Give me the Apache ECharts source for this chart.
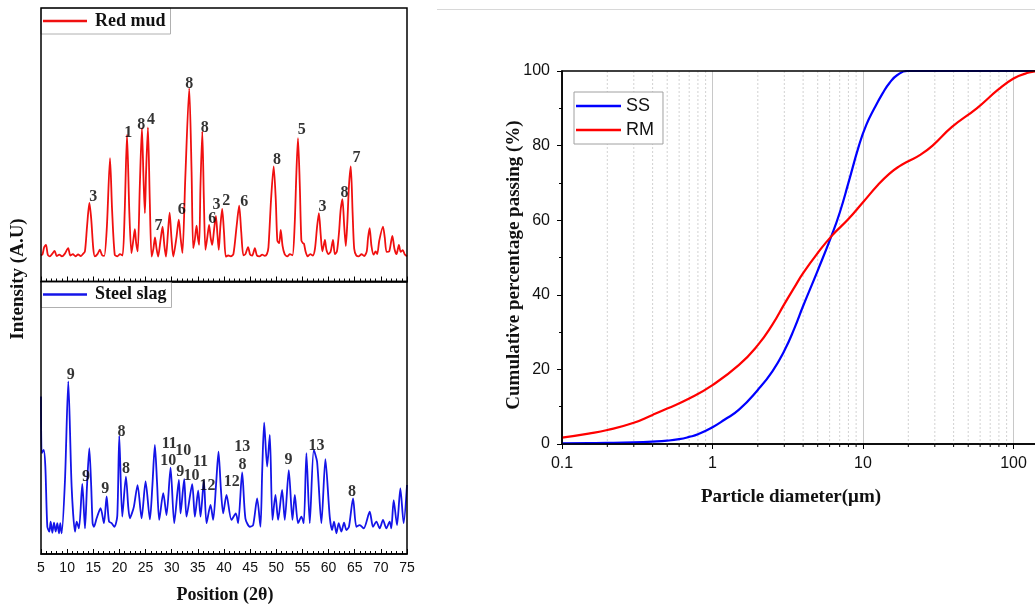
<!DOCTYPE html>
<html>
<head>
<meta charset="utf-8">
<script src="https://cdn.jsdelivr.net/npm/echarts@6/dist/echarts.min.js"></script>
<style>
html,body{margin:0;padding:0;background:#fff;}
#chart{width:1035px;height:610px;}
</style>
</head>
<body>
<div id="chart"></div>
<script>
// ---- XRD patterns: [2θ (deg), intensity (a.u.)] ----
const redMudXrd = [
  [5.0,95],[5.3,100],[5.6,125],[5.95,134],[6.3,98],[6.7,92],[7.1,100],[7.6,112],[8.0,93],[8.5,98],
  [9.0,92],[9.5,100],[10.2,122],[10.6,95],[11.1,100],[11.6,92],[12.1,99],[12.6,93],[13.0,100],[13.4,110],
  [13.8,200],[14.25,287],[14.6,230],[15.0,120],[15.3,92],[15.8,100],[16.25,116],[16.7,96],[17.1,94],[17.6,200],
  [18.2,451],[18.6,260],[19.1,98],[19.6,92],[20.1,100],[20.6,95],[21.0,250],[21.45,537],[21.9,250],[22.3,104],
  [22.65,150],[22.95,191],[23.2,140],[23.5,110],[23.9,350],[24.3,561],[24.6,380],[24.87,250],[25.1,400],[25.45,563],
  [25.8,300],[26.15,91],[26.5,120],[26.8,161],[27.1,120],[27.4,91],[27.85,150],[28.25,201],[28.6,130],[28.9,91],
  [29.25,170],[29.6,252],[29.95,160],[30.3,91],[30.9,160],[31.35,226],[31.7,160],[32.05,104],[32.6,380],[33.35,707],
  [33.8,400],[34.1,122],[34.4,150],[34.75,204],[35.0,160],[35.25,134],[35.5,350],[35.85,549],[36.15,300],[36.45,116],
  [36.8,160],[37.15,207],[37.45,160],[37.75,134],[38.1,190],[38.45,240],[38.75,170],[39.0,116],[39.3,200],[39.65,265],
  [40.0,180],[40.35,91],[40.8,95],[41.3,92],[41.8,100],[42.4,200],[42.9,277],[43.3,180],[43.7,96],[44.1,100],
  [44.6,126],[45.0,98],[45.4,95],[45.9,122],[46.3,95],[46.8,92],[47.3,98],[47.8,94],[48.2,100],[48.5,125],
  [49.0,300],[49.5,421],[49.9,300],[50.2,150],[50.55,140],[50.85,189],[51.2,130],[51.6,100],[52.1,92],[52.6,100],
  [53.1,96],[53.5,200],[53.85,400],[54.15,524],[54.5,350],[54.8,150],[55.1,140],[55.3,138],[55.6,110],[56.0,92],
  [56.5,100],[57.0,95],[57.4,120],[57.8,200],[58.15,250],[58.5,170],[58.8,110],[59.05,130],[59.3,152],[59.6,115],
  [60.0,100],[60.4,110],[60.85,152],[61.2,100],[61.6,110],[62.0,180],[62.3,260],[62.65,301],[63.0,200],[63.3,130],
  [63.6,220],[63.9,350],[64.25,421],[64.6,250],[64.9,120],[65.3,95],[65.8,92],[66.3,100],[66.8,93],[67.3,110],
  [67.55,160],[67.85,195],[68.2,130],[68.6,98],[69.0,110],[69.3,100],[69.7,150],[70.4,201],[70.75,160],[71.1,108],
  [71.6,110],[72.2,167],[72.6,120],[73.0,100],[73.45,134],[73.8,108],[74.2,115],[74.55,100],[75.0,92]
];
// phase index labels: [2θ, intensity, phase]
const redMudPhases = [
  [15.0,309,'3'],[21.69,543,'1'],[24.17,572,'8'],[26.02,590,'4'],[27.48,203,'7'],[31.94,262,'6'],
  [33.34,722,'8'],[36.34,563,'8'],[37.74,230,'6'],[38.57,279,'3'],[40.41,295,'2'],[43.85,292,'6'],
  [50.16,443,'8'],[54.87,554,'5'],[58.82,274,'3'],[63.03,323,'8'],[65.32,451,'7']
];

const steelSlagXrd = [
  [5.0,578],[5.13,370],[5.51,382],[5.83,321],[6.21,100],[6.59,82],[6.85,119],[7.17,78],[7.48,115],[7.8,82],
  [8.12,113],[8.44,76],[8.69,113],[8.95,76],[9.59,272],[10.22,633],[10.86,247],[11.5,82],[11.82,119],[12.26,94],
  [12.9,257],[13.41,94],[13.8,250],[14.24,388],[14.6,250],[14.87,113],[15.13,100],[15.64,131],[16.4,168],[17.04,113],
  [17.55,211],[18.0,120],[18.5,113],[19.05,100],[19.59,140],[19.97,433],[20.54,137],[21.24,284],[21.7,170],[22.0,131],
  [22.4,150],[22.77,174],[23.47,253],[24.24,131],[25.0,266],[25.83,127],[26.3,250],[26.78,400],[27.2,260],[27.61,125],
  [28.38,223],[29.01,143],[29.78,317],[30.48,113],[31.37,272],[31.69,149],[32.39,275],[32.83,137],[33.92,256],[34.43,137],
  [35.06,233],[35.51,137],[36.15,269],[36.66,113],[37.42,180],[37.93,125],[38.5,260],[38.95,376],[39.4,240],[39.84,149],
  [40.48,217],[41.43,125],[42.26,149],[42.7,113],[43.47,299],[44.1,130],[44.94,100],[45.57,106],[46.34,204],[46.97,100],
  [47.3,300],[47.68,482],[48.25,321],[48.76,437],[49.27,125],[49.84,217],[50.35,125],[51.11,235],[51.62,125],[52.39,308],
  [53.09,125],[53.54,217],[54.17,113],[54.8,137],[55.25,113],[55.76,370],[56.4,113],[57.17,382],[57.8,339],[58.63,113],
  [59.39,348],[60.22,137],[60.67,88],[61.05,119],[61.5,76],[61.94,113],[62.45,82],[62.96,115],[63.41,88],[63.9,100],
  [64.68,204],[65.32,100],[65.96,106],[66.72,94],[67.87,155],[68.5,100],[69.14,119],[69.78,94],[70.41,125],[71.05,94],
  [71.69,119],[72.0,94],[72.45,198],[73.09,106],[73.73,241],[74.36,113],[75.0,253]
];
const steelSlagPhases = [
  [10.67,657,'9'],[13.6,282,'9'],[17.29,239,'9'],[20.41,447,'8'],[21.24,311,'8'],[29.52,406,'11'],
  [32.2,378,'10'],[29.33,340,'10'],[31.62,302,'9'],[33.79,286,'10'],[35.5,339,'11'],[36.85,251,'12'],
  [43.47,394,'13'],[43.54,327,'8'],[41.5,266,'12'],[52.32,345,'9'],[57.68,397,'13'],[64.5,229,'8']
];

// ---- Particle size distribution: diameter (µm) vs cumulative passing (%) ----
const ssDiameter = [0.1,0.15,0.2,0.3,0.4,0.5,0.6,0.7,0.8,1,1.2,1.5,2,2.5,3,3.5,4,5,6.2,7,8,9.4,10.5,11.9,13.5,15,17,19.7,25,50,100,150];
const ssPassing  = [0.2,0.25,0.3,0.45,0.65,0.9,1.3,1.9,2.6,4.5,6.5,9.2,14.5,19.5,25,31,37,46.5,56,62,70,80,85.5,90,94,96.8,99,100,100,100,100,100];
const rmDiameter = [0.1,0.15,0.2,0.3,0.4,0.5,0.7,1,1.5,2,2.5,3,3.5,4,5,6.2,8,10,12.6,15,17.5,20,24,29,39,57,79,100,120,150,200];
const rmPassing  = [1.7,2.8,3.75,5.7,7.8,9.5,12.2,15.8,21.2,26.5,32,37.5,42,45.8,51.2,55.8,60.3,64.8,69.5,72.5,74.5,75.8,77.5,80,85,90,95,98,99.3,100,100];
const minorDiameters = [0.2,0.3,0.4,0.5,0.6,0.7,0.8,0.9,2,3,4,5,6,7,8,9,20,30,40,50,60,70,80,90,200,300,400,500,600,700,800,900];

const SERIF = "'Liberation Serif','DejaVu Serif',serif";
const SANS = "'Liberation Sans',Arial,sans-serif";
const RED = '#f01010', BLUE = '#1414e8';

const pairs = (xs, ys) => xs.map((x, i) => [x, ys[i]]);

function xrdXAxis(gridIndex, withLabels) {
  return {
    type: 'value', gridIndex, min: 5, max: 75, interval: 5,
    axisLine: {show: true, lineStyle: {color: '#000', width: 1.5}},
    axisTick: {show: true, inside: true, length: 5, lineStyle: {color: '#000', width: 1}},
    minorTick: {show: true, splitNumber: 5, length: 3, lineStyle: {color: '#000', width: 1}},
    splitLine: {show: false},
    axisLabel: {show: withLabels, margin: 7, fontFamily: SANS, fontSize: 14, color: '#111'}
  };
}
function xrdYAxis(gridIndex) {
  return {type: 'value', gridIndex, min: 0, max: 1000, show: false};
}
function phaseLabels(idx, data) {
  return {
    type: 'scatter', xAxisIndex: idx, yAxisIndex: idx, data, symbolSize: 0.01, silent: true, z: 6,
    itemStyle: {color: '#000'},
    label: {show: true, position: 'inside', formatter: p => p.value[2], textBorderWidth: 0,
      fontFamily: SERIF, fontWeight: 'bold', fontSize: 16, color: '#000'}
  };
}
const xrdLegendBase = {
  orient: 'horizontal', left: 41, padding: [4, 5, 4, 2], itemWidth: 44, itemHeight: 2.5, icon: 'rect',
  borderColor: '#b0b0b0', borderWidth: 1, backgroundColor: '#fff', z: 1, selectedMode: false,
  textStyle: {fontFamily: SERIF, fontWeight: 'bold', fontSize: 18, color: '#111', padding: [0, 0, 0, 3], lineHeight: 17}
};

const chart = echarts.init(document.getElementById('chart'), null, {renderer: 'canvas'});
chart.setOption({
  backgroundColor: '#fff',
  animation: false,
  grid: [
    {left: 41, top: 8, width: 366, height: 273.5, show: true, borderColor: '#000', borderWidth: 1.5, z: 5},
    {left: 41, top: 281.5, width: 366, height: 272.5, show: true, borderColor: '#000', borderWidth: 1.5, z: 5},
    // the log axis runs to 1000 µm, past the right edge of the page
    {left: 562, top: 71, width: 602, height: 373, show: true, borderColor: '#000', borderWidth: 1.5, z: 5,
      outerBoundsMode: 'none', containLabel: false}
  ],
  legend: [
    Object.assign({}, xrdLegendBase, {top: 8, data: ['Red mud']}),
    Object.assign({}, xrdLegendBase, {top: 281.5, data: ['Steel slag']}),
    {
      orient: 'vertical', left: 574, top: 92, padding: [5, 9, 5, 2], itemGap: 6,
      itemWidth: 45, itemHeight: 2.5, icon: 'rect', borderColor: '#a0a0a0', borderWidth: 1, backgroundColor: '#fff',
      selectedMode: false, data: ['SS', 'RM'],
      textStyle: {fontFamily: SANS, fontSize: 18, color: '#111', lineHeight: 18}
    }
  ],
  xAxis: [
    xrdXAxis(0, false),
    xrdXAxis(1, true),
    {
      type: 'log', gridIndex: 2, logBase: 10, min: 0.1, max: 1000,
      axisLine: {show: true, onZero: false, lineStyle: {color: '#000', width: 1.5}},
      axisTick: {show: true, inside: false, length: 5, lineStyle: {color: '#000', width: 1}},
      splitLine: {show: true, lineStyle: {color: '#c8c8c8', width: 1}},
      axisLabel: {margin: 12, fontFamily: SANS, fontSize: 16, color: '#111', formatter: v => String(v)}
    }
  ],
  yAxis: [
    xrdYAxis(0),
    xrdYAxis(1),
    {
      type: 'value', gridIndex: 2, min: 0, max: 100, interval: 20,
      axisLine: {show: true, lineStyle: {color: '#000', width: 1.5}},
      axisTick: {show: true, inside: false, length: 5, lineStyle: {color: '#000', width: 1}},
      minorTick: {show: true, splitNumber: 2, length: 3, lineStyle: {color: '#000', width: 1}},
      splitLine: {show: false},
      axisLabel: {margin: 12, fontFamily: SANS, fontSize: 16, color: '#111'}
    }
  ],
  series: [
    {name: 'Red mud', type: 'line', xAxisIndex: 0, yAxisIndex: 0, data: redMudXrd,
      symbol: 'none', smooth: 0.25, lineStyle: {color: RED, width: 1.8}, itemStyle: {color: RED}, z: 3},
    {name: 'Steel slag', type: 'line', xAxisIndex: 1, yAxisIndex: 1, data: steelSlagXrd,
      symbol: 'none', smooth: 0.25, lineStyle: {color: BLUE, width: 1.8}, itemStyle: {color: BLUE}, z: 3},
    phaseLabels(0, redMudPhases),
    phaseLabels(1, steelSlagPhases),
    {
      // minor decade ticks and dotted minor grid lines of the log axis
      type: 'custom', xAxisIndex: 2, yAxisIndex: 2, z: 1, silent: true, clip: false,
      data: minorDiameters.map(d => [d, 0]), encode: {x: 0, y: 1},
      renderItem: (params, api) => {
        const b = api.coord([api.value(0), 0]);
        const t = api.coord([api.value(0), 100]);
        return {type: 'group', children: [
          {type: 'line', shape: {x1: b[0], y1: t[1], x2: b[0], y2: b[1]},
            style: {stroke: '#d2d2d2', lineWidth: 1, lineDash: [2, 2]}},
          {type: 'line', shape: {x1: b[0], y1: b[1], x2: b[0], y2: b[1] + 3},
            style: {stroke: '#000', lineWidth: 1}}
        ]};
      }
    },
    {name: 'SS', type: 'line', xAxisIndex: 2, yAxisIndex: 2, data: pairs(ssDiameter, ssPassing),
      symbol: 'none', smooth: 0.5, lineStyle: {color: '#0000ff', width: 2.2}, itemStyle: {color: '#0000ff'}, z: 3},
    {name: 'RM', type: 'line', xAxisIndex: 2, yAxisIndex: 2, data: pairs(rmDiameter, rmPassing),
      symbol: 'none', smooth: 0.5, lineStyle: {color: '#ff0000', width: 2.2}, itemStyle: {color: '#ff0000'}, z: 3}
  ],
  graphic: [
    {type: 'line', shape: {x1: 437, y1: 9.5, x2: 1035, y2: 9.5}, style: {stroke: '#d8d8d8', lineWidth: 1}, silent: true},
    {type: 'text', x: 18, y: 279, rotation: Math.PI / 2,
      style: {text: 'Intensity (A.U)', font: "bold 19px " + SERIF, fill: '#111', textAlign: 'center', textVerticalAlign: 'middle'}},
    {type: 'text', x: 225, y: 595,
      style: {text: 'Position (2θ)', font: "bold 18px " + SERIF, fill: '#111', textAlign: 'center', textVerticalAlign: 'middle'}},
    {type: 'text', x: 514, y: 265, rotation: Math.PI / 2,
      style: {text: 'Cumulative percentage passing (%)', font: "bold 19px " + SERIF, fill: '#111', textAlign: 'center', textVerticalAlign: 'middle'}},
    {type: 'text', x: 791, y: 497,
      style: {text: 'Particle diameter(μm)', font: "bold 19px " + SERIF, fill: '#111', textAlign: 'center', textVerticalAlign: 'middle'}}
  ]
});
</script>
</body>
</html>
